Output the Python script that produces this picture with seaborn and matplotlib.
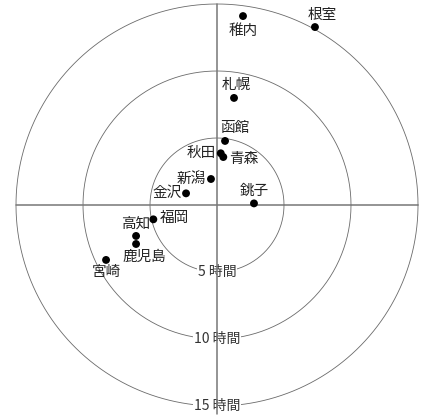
import matplotlib
matplotlib.use('Agg')
import matplotlib.pyplot as plt
import numpy as np
import pandas as pd
import seaborn as sns

########### DATA (hours east / north of centre) ###########
cities = ['稚内', '根室', '札幌', '函館', '秋田', '青森', '新潟',
          '金沢', '銚子', '福岡', '高知', '鹿児島', '宮崎']
x_hours = [1.94, 7.31, 1.27, 0.60, 0.28, 0.47, -0.45,
           -2.31, 2.76, -4.75, -6.04, -6.04, -8.28]
y_hours = [14.10, 13.28, 7.99, 4.78, 3.86, 3.58, 1.94,
           0.87, 0.12, -1.07, -2.31, -2.91, -4.10]
rings = [5, 10, 15]
ring_labels = ['5 時間', '10 時間', '15 時間']

df = pd.DataFrame({'city': cities, 'x': x_hours, 'y': y_hours})

# label offsets in pixels (layout only)
offsets = {'稚内': (0, -15), '根室': (7, 12), '札幌': (2, 13), '函館': (10, 13),
           '秋田': (-20, 0), '青森': (20, -2), '新潟': (-20, -1), '金沢': (-19, 0),
           '銚子': (0, 13), '福岡': (21, 1), '高知': (0, 12), '鹿児島': (8, -13),
           '宮崎': (0, -12)}

sns.set_style('white')
plt.rcParams['font.family'] = ['Noto Sans CJK JP', 'DejaVu Sans']

fig = plt.figure(figsize=(4.28, 4.16), dpi=100)
ax = fig.add_axes([0, 0, 1, 1])

############### RINGS AND AXES ###############
t = np.linspace(0, 2 * np.pi, 400)
for r in rings:
    ax.plot(r * np.cos(t), r * np.sin(t), color='#6a6a6a', lw=0.6, zorder=1)
ax.plot([-15, 15], [0, 0], color='#777777', lw=1.1, zorder=1)
ax.plot([0, 0], [-15.6, 15], color='#777777', lw=1.1, zorder=4)

for r, lab in zip(rings, ring_labels):
    ax.text(0, -r, lab, ha='center', va='center', fontsize=10, color='#333333',
            bbox=dict(facecolor='white', edgecolor='none', pad=0.5), zorder=3)

############### POINTS ###############
sns.scatterplot(data=df, x='x', y='y', color='black', s=32, edgecolor='none',
                ax=ax, zorder=5)
for c, xv, yv in zip(cities, x_hours, y_hours):
    dx, dy = offsets[c]
    ax.annotate(c, (xv, yv), xytext=(dx, dy), textcoords='offset pixels',
                ha='center', va='center', fontsize=10.5, color='#222222', zorder=6)

ax.set_xlim((0 - 217) / 13.4, (428 - 217) / 13.4)
ax.set_ylim(-(416 - 205) / 13.4, 205 / 13.4)
ax.set_axis_off()

plt.savefig('out.png', dpi=100)
